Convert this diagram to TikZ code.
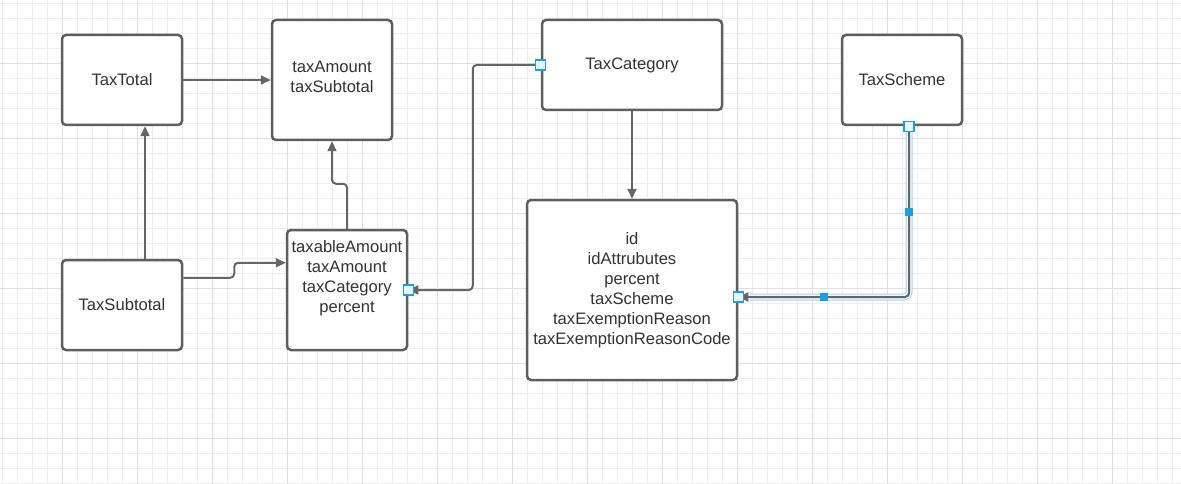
\documentclass[tikz,border=0pt]{standalone}
\usepackage{fontspec}
\setmainfont{Liberation Sans}
\usetikzlibrary{calc, arrows.meta}
\definecolor{boxline}{HTML}{5E5E5E}
\definecolor{connline}{HTML}{666666}
\definecolor{gridminor}{HTML}{EEEEEE}
\definecolor{gridmajor}{HTML}{E0E0E0}
\definecolor{txt}{HTML}{333333}
\definecolor{selblue}{HTML}{1A9FE5}
\definecolor{selhalo}{HTML}{A9D3F5}
\tikzset{
  entity/.style={draw=boxline, line width=2.5pt, rounded corners=4pt, fill=white,
    text=txt, align=center, font=\fontsize{16.6}{20}\selectfont, inner sep=0pt},
  conn/.style={draw=connline, line width=2pt, rounded corners=4pt,
    -{Triangle[length=10pt,width=9pt]}},
  handle/.style={draw=selblue, fill=white!90!selblue, line width=1.2pt, minimum size=10pt, inner sep=0pt},
  midhandle/.style={fill=selblue, minimum size=8pt, inner sep=0pt}
}

\begin{document}
\begin{tikzpicture}[x=1pt, y=-1pt]
  \useasboundingbox[fill=white] (0,0) rectangle (1181,484);
  % Background grid
  \foreach \x in {2,17,...,1181} {
    \draw[gridminor, line width=0.9pt] (\x,0) -- (\x,484);
  }
  \foreach \y in {3.5,18.5,...,484} {
    \draw[gridminor, line width=0.9pt] (0,\y) -- (1181,\y);
  }
  \foreach \x in {62,137,...,1181} {
    \draw[gridmajor, line width=1pt] (\x,0) -- (\x,484);
  }
  \foreach \y in {63.5,138.5,...,484} {
    \draw[gridmajor, line width=1pt] (0,\y) -- (1181,\y);
  }
  % Entities
  \node[entity, minimum width=120pt, minimum height=90pt] (total) at (122,80) {TaxTotal};
  \node[entity, minimum width=120pt, minimum height=120pt,
    label={[text=txt, align=center, font=\fontsize{16.6}{20}\selectfont, yshift=3pt]center:taxAmount\\taxSubtotal}]
    (amount) at (332,80) {};
  \node[entity, minimum width=180pt, minimum height=90pt] (category) at (632,65) {TaxCategory};
  \node[entity, minimum width=120pt, minimum height=90pt] (scheme) at (902,80) {TaxScheme};
  \node[entity, minimum width=120pt, minimum height=90pt] (subtotal) at (122,305) {TaxSubtotal};
  \node[entity, minimum width=120pt, minimum height=120pt,
    label={[text=txt, align=center, font=\fontsize{16.6}{20}\selectfont, yshift=12pt]center:taxableAmount\\taxAmount\\taxCategory\\percent}]
    (taxsub) at (347,290) {};
  \node[entity, minimum width=210pt, minimum height=180pt] (catbox) at (632,290)
    {id\\idAttrubutes\\percent\\taxScheme\\taxExemptionReason\\taxExemptionReasonCode};
  % Connectors
  \draw[conn] (total.east) -- (amount.west);
  \draw[conn] ($(subtotal.north)+(23,0)$) -- ($(total.south)+(23,0)$);
  \draw[conn] (taxsub.north) -- ++(0,-45) -| (amount.south);
  \draw[conn] ($(subtotal.north east)+(0,19)$) -- ++(51,0) |- ($(taxsub.north west)+(0,34)$);
  \draw[conn] (category.west) -- ++(-68,0) |- (taxsub.east);
  \draw[conn] (category.south) -- (catbox.north);
  % Selected connector
  \draw[selhalo, line width=7pt, rounded corners=5pt]
    ($(scheme.south)+(7,0)$) |- ($(catbox.east)+(12,7)$);
  \draw[white!80!selhalo, line width=5pt, rounded corners=5pt]
    ($(scheme.south)+(7,0)$) |- ($(catbox.east)+(12,7)$);
  \draw[conn] ($(scheme.south)+(7,0)$) |- ($(catbox.east)+(0,7)$);
  % Handles
  \node[handle] (h1) at (category.west) {};
  \node[handle] (h2) at (taxsub.east) {};
  \node[handle] (h3) at ($(scheme.south)+(7,0)$) {};
  \node[handle] (h4) at ($(catbox.east)+(0,7)$) {};
  \node[midhandle] (m1) at ($(scheme.south)+(7,86)$) {};
  \node[midhandle] (m2) at ($(catbox.east)+(86,7)$) {};
\end{tikzpicture}
\end{document}
